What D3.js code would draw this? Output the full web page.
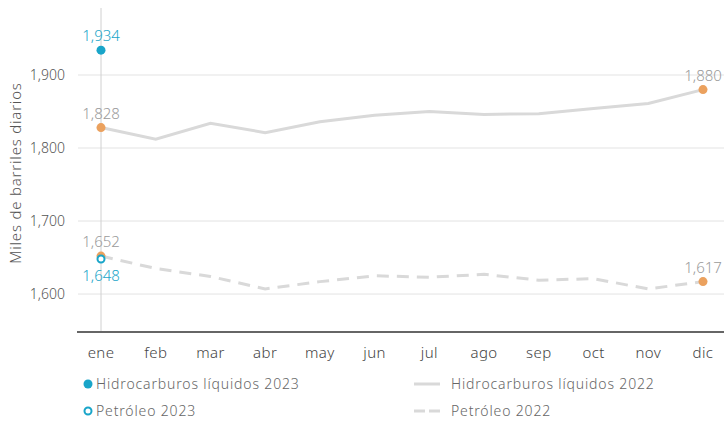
<!DOCTYPE html>
<html>
<head>
<meta charset="utf-8">
<script src="https://cdn.jsdelivr.net/npm/d3@7"></script>
<style>
  body { margin: 0; background: #fff; }
  svg text { font-family: "Noto Sans", "Open Sans", sans-serif; font-weight: 300; }
</style>
</head>
<body>
<svg id="chart" width="724" height="421"></svg>
<script>
const months = ["ene", "feb", "mar", "abr", "may", "jun", "jul", "ago", "sep", "oct", "nov", "dic"];
const hidro2022 = [1828, 1812, 1834, 1821, 1836, 1845, 1850, 1846, 1847, 1854, 1861, 1880];
const petro2022 = [1652, 1635, 1624, 1607, 1617, 1625, 1623, 1627, 1619, 1621, 1607, 1617];
const hidro2023 = [1934];
const petro2023 = [1648];
const yTicks = [1600, 1700, 1800, 1900];

const teal = "#19a5c9", orange = "#eba15e", lineGray = "#d9d9d9", labelGray = "#9a9a9a";

const svg = d3.select("#chart");

const x = d3.scalePoint().domain(months).range([101, 703]);
const y = d3.scaleLinear().domain([1548, 1900]).range([332, 75]);

// gridlines
svg.append("g")
  .selectAll("line")
  .data(yTicks)
  .join("line")
  .attr("x1", 78).attr("x2", 724)
  .attr("y1", d => y(d)).attr("y2", d => y(d))
  .attr("stroke", "#e3e3e3").attr("stroke-width", 1);

// y tick labels
svg.append("g")
  .selectAll("text")
  .data(yTicks)
  .join("text")
  .attr("x", 65).attr("y", d => y(d) + 5)
  .attr("text-anchor", "end")
  .attr("font-size", 14)
  .attr("fill", "#555")
  .text(d => d3.format(",")(d));

// y axis title
svg.append("text")
  .attr("transform", "translate(21,173) rotate(-90)")
  .attr("text-anchor", "middle")
  .attr("font-size", 15)
  .attr("letter-spacing", 0.8)
  .attr("fill", "#555")
  .text("Miles de barriles diarios");

// crosshair on ene
svg.append("line")
  .attr("x1", x("ene")).attr("x2", x("ene"))
  .attr("y1", 8).attr("y2", 332)
  .attr("stroke", "#d0d0d0").attr("stroke-width", 1);

// 2022 lines
const line = d3.line()
  .x((d, i) => x(months[i]))
  .y(d => y(d))
  .curve(d3.curveLinear);

svg.append("path")
  .datum(hidro2022)
  .attr("d", line)
  .attr("fill", "none")
  .attr("stroke", lineGray)
  .attr("stroke-width", 3);

svg.append("path")
  .datum(petro2022)
  .attr("d", line)
  .attr("fill", "none")
  .attr("stroke", lineGray)
  .attr("stroke-width", 3)
  .attr("stroke-dasharray", "12,8");

// x baseline
svg.append("line")
  .attr("x1", 77).attr("x2", 724)
  .attr("y1", 332).attr("y2", 332)
  .attr("stroke", "#666").attr("stroke-width", 2);

// x tick labels
svg.append("g")
  .selectAll("text")
  .data(months)
  .join("text")
  .attr("x", d => x(d)).attr("y", 358)
  .attr("text-anchor", "middle")
  .attr("font-size", 15)
  .attr("letter-spacing", 0.4)
  .attr("fill", "#444")
  .text(d => d);

// endpoint markers of 2022 series
const ends = [
  { v: hidro2022[0], m: "ene" }, { v: hidro2022[11], m: "dic" },
  { v: petro2022[0], m: "ene" }, { v: petro2022[11], m: "dic" }
];
svg.append("g")
  .selectAll("circle")
  .data(ends)
  .join("circle")
  .attr("cx", d => x(d.m)).attr("cy", d => y(d.v))
  .attr("r", 4.5)
  .attr("fill", orange);

svg.append("g")
  .selectAll("text")
  .data(ends)
  .join("text")
  .attr("x", d => x(d.m)).attr("y", d => y(d.v) - 9)
  .attr("text-anchor", "middle")
  .attr("font-size", 15)
  .attr("fill", labelGray)
  .text(d => d3.format(",")(d.v));

// 2023 points
svg.append("circle")
  .attr("cx", x("ene")).attr("cy", y(hidro2023[0]))
  .attr("r", 4.5)
  .attr("fill", teal);
svg.append("text")
  .attr("x", x("ene")).attr("y", y(hidro2023[0]) - 9)
  .attr("text-anchor", "middle")
  .attr("font-size", 15)
  .attr("fill", teal)
  .text(d3.format(",")(hidro2023[0]));

svg.append("circle")
  .attr("cx", x("ene")).attr("cy", y(petro2023[0]))
  .attr("r", 3.5)
  .attr("fill", "#fff")
  .attr("stroke", teal)
  .attr("stroke-width", 2);
svg.append("text")
  .attr("x", x("ene")).attr("y", y(petro2023[0]) + 22)
  .attr("text-anchor", "middle")
  .attr("font-size", 15)
  .attr("fill", teal)
  .text(d3.format(",")(petro2023[0]));

// legend
const legend = svg.append("g").attr("font-size", 14).attr("letter-spacing", 0.85);
legend.append("circle").attr("cx", 88).attr("cy", 384).attr("r", 4.5).attr("fill", teal);
legend.append("text").attr("x", 96).attr("y", 389).attr("fill", "#666").text("Hidrocarburos líquidos 2023");
legend.append("circle").attr("cx", 88).attr("cy", 411).attr("r", 3.5)
  .attr("fill", "#fff").attr("stroke", teal).attr("stroke-width", 2);
legend.append("text").attr("x", 96).attr("y", 416).attr("fill", "#666").text("Petróleo 2023");

legend.append("line").attr("x1", 414).attr("x2", 440).attr("y1", 384).attr("y2", 384)
  .attr("stroke", lineGray).attr("stroke-width", 3);
legend.append("text").attr("x", 451).attr("y", 389).attr("fill", "#666").text("Hidrocarburos líquidos 2022");
legend.append("line").attr("x1", 414).attr("x2", 440).attr("y1", 411).attr("y2", 411)
  .attr("stroke", lineGray).attr("stroke-width", 3).attr("stroke-dasharray", "11,4");
legend.append("text").attr("x", 451).attr("y", 416).attr("fill", "#666").text("Petróleo 2022");
</script>
</body>
</html>
